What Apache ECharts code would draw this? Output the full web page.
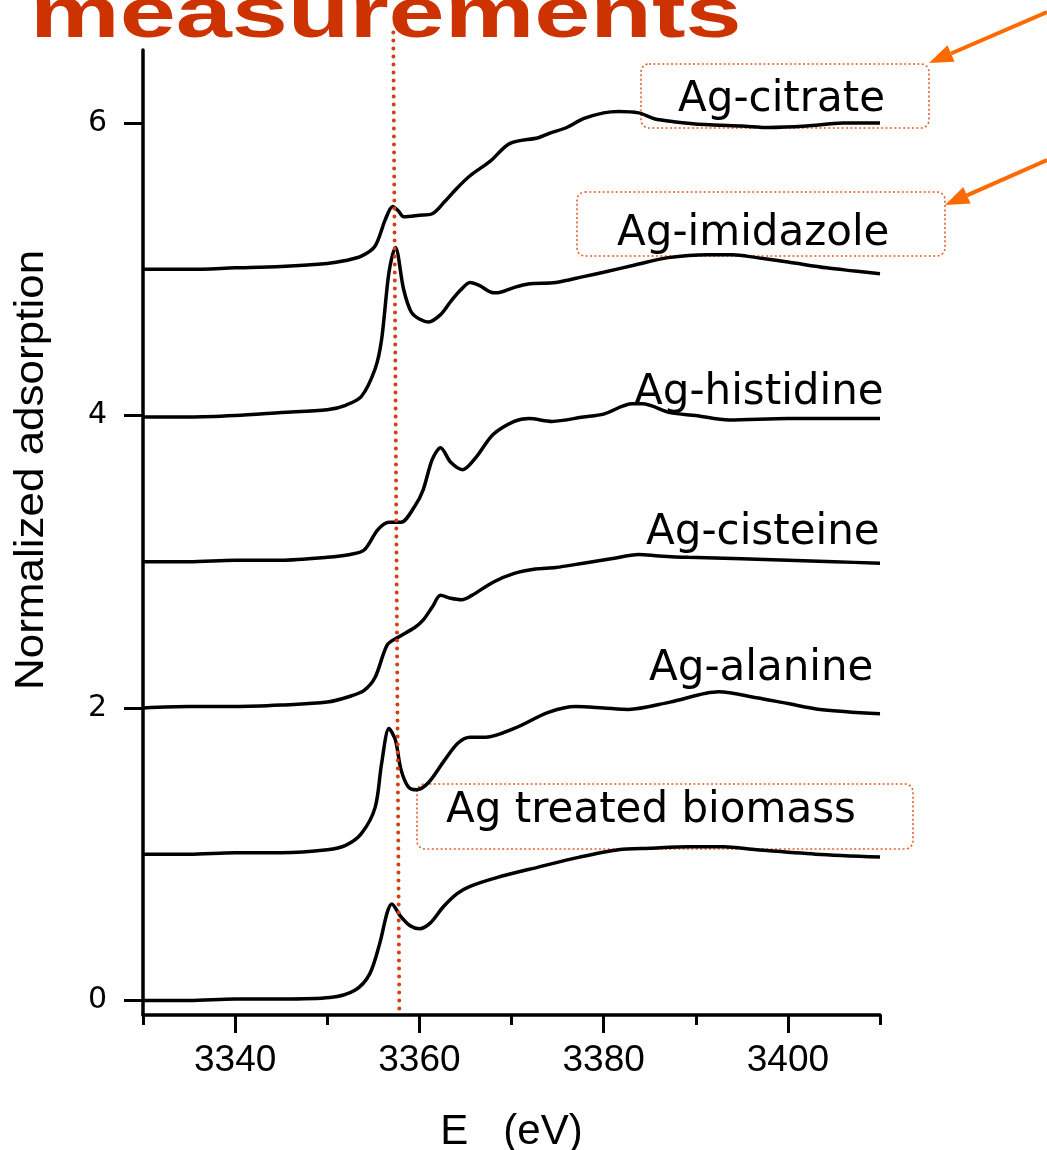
<!DOCTYPE html>
<html>
<head>
<meta charset="utf-8">
<script src="https://cdn.jsdelivr.net/npm/echarts@6/dist/echarts.min.js"></script>
<style>
  html, body { margin: 0; padding: 0; background: #ffffff; }
  #chart { width: 1047px; height: 1150px; }
</style>
</head>
<body>
<div id="chart"></div>
<script>
// Ag K-edge XANES spectra, each offset vertically by one unit: [energy (eV), normalized absorption]
const agBiomass = [
  [3330, 0.00], [3335, 0.00], [3340, 0.01], [3345, 0.01], [3350.3, 0.02], [3353, 0.07],
  [3354.6, 0.18], [3355.7, 0.39], [3356.5, 0.60], [3357, 0.66], [3357.9, 0.58], [3359, 0.51],
  [3360, 0.49], [3361.2, 0.53], [3362.6, 0.64], [3364.1, 0.73], [3365.5, 0.78], [3368.4, 0.84],
  [3372.8, 0.91], [3377.4, 0.98], [3381.6, 1.03], [3385, 1.04], [3389.2, 1.05], [3393, 1.05],
  [3396.6, 1.03], [3403, 1.00], [3410, 0.98]
];
const agAlanine = [
  [3330, 1.00], [3335, 1.00], [3340, 1.01], [3345, 1.01], [3350, 1.03], [3352, 1.06],
  [3353.7, 1.14], [3355.2, 1.32], [3355.9, 1.62], [3356.7, 1.86], [3357.4, 1.78], [3358, 1.58],
  [3358.8, 1.46], [3359.7, 1.44], [3361, 1.49], [3362.7, 1.64], [3364.2, 1.76], [3365.5, 1.80],
  [3367.2, 1.80], [3370.3, 1.86], [3374, 1.97], [3377, 2.01], [3380, 2.00], [3382.7, 1.99],
  [3387.2, 2.04], [3392.5, 2.11], [3396.6, 2.07], [3400, 2.03], [3403.5, 1.99], [3410, 1.96]
];
const agCisteine = [
  [3330, 2.00], [3335, 2.01], [3340, 2.01], [3345, 2.02], [3350, 2.04], [3352.5, 2.08],
  [3354, 2.12], [3355.2, 2.21], [3356.5, 2.43], [3357.6, 2.48], [3359.5, 2.55], [3360.4, 2.60],
  [3361.4, 2.69], [3362.3, 2.77], [3363.4, 2.75], [3364.6, 2.74], [3365.7, 2.77], [3368, 2.86],
  [3370.3, 2.92], [3372.6, 2.95], [3374.8, 2.96], [3377.8, 2.99], [3380.8, 3.02], [3383.8, 3.05],
  [3386, 3.04], [3389.2, 3.03], [3395, 3.02], [3400, 3.01], [3405, 3.00], [3410, 2.99]
];
const agHistidine = [
  [3330, 3.00], [3335, 3.00], [3340, 3.01], [3345, 3.01], [3350, 3.03], [3352.5, 3.05],
  [3354, 3.08], [3355.5, 3.22], [3356.7, 3.27], [3358, 3.27], [3359.5, 3.38], [3360.4, 3.49],
  [3361.4, 3.70], [3362.3, 3.78], [3363.4, 3.68], [3364.7, 3.63], [3366.1, 3.71], [3368, 3.87],
  [3370.3, 3.96], [3371.9, 3.98], [3374.4, 3.96], [3377.8, 3.99], [3380, 4.01], [3383.1, 4.08],
  [3384.2, 4.08], [3387.2, 4.02], [3390, 4.00], [3393.6, 3.97], [3400, 3.98], [3405, 3.98], [3410, 3.98]
];
const agImidazole = [
  [3330, 3.99], [3335, 3.99], [3340, 4.00], [3345, 4.02], [3350, 4.04], [3352, 4.07],
  [3353.7, 4.13], [3355.2, 4.32], [3355.9, 4.52], [3356.7, 4.98], [3357.4, 5.15], [3358.3, 4.86],
  [3359.1, 4.71], [3360, 4.66], [3361, 4.64], [3362.3, 4.69], [3363.4, 4.78], [3364.5, 4.86],
  [3365.5, 4.91], [3366.5, 4.89], [3368, 4.84], [3368.5, 4.84], [3370, 4.87], [3371.8, 4.90],
  [3374.8, 4.91], [3377.8, 4.95], [3380, 4.98], [3383.4, 5.03], [3387, 5.08], [3391.3, 5.10],
  [3394, 5.10], [3396.6, 5.08], [3400, 5.05], [3404.2, 5.01], [3407, 4.99], [3410, 4.97]
];
const agCitrate = [
  [3330, 5.00], [3335, 5.00], [3340, 5.01], [3345, 5.02], [3350, 5.04], [3352, 5.06],
  [3353.7, 5.09], [3355.2, 5.16], [3356.3, 5.34], [3357.1, 5.43], [3357.7, 5.40], [3358.3, 5.36],
  [3360, 5.37], [3361.4, 5.38], [3362.7, 5.46], [3364, 5.55], [3365.5, 5.64], [3367.7, 5.74],
  [3369.8, 5.86], [3372.9, 5.90], [3374.1, 5.93], [3376, 5.97], [3377.8, 6.03], [3380, 6.07],
  [3381.6, 6.08], [3383.8, 6.07], [3385.5, 6.03], [3387.6, 6.01], [3391, 5.99], [3395, 5.98],
  [3398, 5.97], [3402, 5.98], [3406, 6.00], [3410, 6.00]
];
// edge position reference line
const edgeLine = [[3357.17, 6.62], [3357.82, -0.07]];

const xMajorTicks = [3340, 3360, 3380, 3400];
const xMinorTicks = [3330, 3350, 3370, 3390, 3410];
const yMajorTicks = [0, 2, 4, 6];
const yMinorTicks = [1, 3, 5];

const spectra = [
  { name: 'Ag treated biomass', data: agBiomass },
  { name: 'Ag-alanine', data: agAlanine },
  { name: 'Ag-cisteine', data: agCisteine },
  { name: 'Ag-histidine', data: agHistidine },
  { name: 'Ag-imidazole', data: agImidazole },
  { name: 'Ag-citrate', data: agCitrate }
];

const chart = echarts.init(document.getElementById('chart'), null, { renderer: 'canvas' });

const labelFont = '42px "DejaVu Sans"';
const boxStroke = '#E0602A';
const arrowColor = '#FF6A00';

function arrow(x1, y1, x2, y2) {
  const ang = Math.atan2(y2 - y1, x2 - x1);
  const len = 24, half = 9;
  const bx = x2 - len * Math.cos(ang), by = y2 - len * Math.sin(ang);
  const px = -Math.sin(ang) * half, py = Math.cos(ang) * half;
  return [
    { type: 'line', z: 10, shape: { x1: x1, y1: y1, x2: bx, y2: by },
      style: { stroke: arrowColor, lineWidth: 4 } },
    { type: 'polygon', z: 10, shape: { points: [[x2, y2], [bx + px, by + py], [bx - px, by - py]] },
      style: { fill: arrowColor } }
  ];
}

function seriesLabel(text, x, y) {
  return { type: 'text', z: 5, x: x, y: y,
    style: { text: text, font: labelFont, fill: '#000', textAlign: 'left', textVerticalAlign: 'middle' } };
}

function dottedBox(x, y, w, h) {
  return { type: 'rect', z: 0, shape: { x: x, y: y, width: w, height: h, r: 8 },
    style: { fill: 'none', stroke: boxStroke, lineWidth: 1.6, lineDash: [2, 2.4] } };
}

const option = {
  backgroundColor: '#ffffff',
  animation: false,
  grid: { left: 143, right: 167, top: 50, bottom: 135, containLabel: false, outerBoundsMode: 'none' },
  xAxis: [
    {
      type: 'value', min: 3330, max: 3410, position: 'bottom',
      axisLine: { show: true, onZero: false, lineStyle: { color: '#000', width: 3.5 } },
      axisTick: { show: true, inside: false, length: 18, customValues: xMajorTicks,
        lineStyle: { color: '#000', width: 3 } },
      axisLabel: { show: true, customValues: xMajorTicks, margin: 27, color: '#000',
        fontFamily: '"Liberation Sans"', fontSize: 37,
        formatter: function (v) { return String(v); } },
      splitLine: { show: false },
      name: 'E   (eV)', nameLocation: 'middle', nameGap: 96,
      nameTextStyle: { color: '#000', fontFamily: '"Liberation Sans"', fontSize: 42 }
    },
    {
      type: 'value', min: 3330, max: 3410, position: 'bottom', offset: 0,
      axisLine: { show: false, onZero: false },
      axisTick: { show: true, inside: false, length: 10, customValues: xMinorTicks,
        lineStyle: { color: '#000', width: 3 } },
      axisLabel: { show: false },
      splitLine: { show: false }
    }
  ],
  yAxis: [
    {
      type: 'value', min: -0.1, max: 6.5, position: 'left',
      axisLine: { show: true, onZero: false, lineStyle: { color: '#000', width: 3.5 } },
      axisTick: { show: true, inside: false, length: 19, customValues: yMajorTicks,
        lineStyle: { color: '#000', width: 3 } },
      axisLabel: { show: true, customValues: yMajorTicks, margin: 36, color: '#000',
        fontFamily: '"DejaVu Sans"', fontSize: 30 },
      splitLine: { show: false }
    },
    {
      type: 'value', min: -0.1, max: 6.5, position: 'left', offset: 0,
      axisLine: { show: false, onZero: false },
      axisTick: { show: true, inside: true, length: 18, customValues: yMinorTicks,
        lineStyle: { color: '#000', width: 3 } },
      axisLabel: { show: false },
      splitLine: { show: false }
    }
  ],
  series: spectra.map(function (s) {
    return {
      name: s.name, type: 'line', data: s.data, xAxisIndex: 0, yAxisIndex: 0,
      showSymbol: false, smooth: 0.3, z: 3,
      lineStyle: { color: '#000', width: 3.5 }
    };
  }).concat([{
    name: 'edge', type: 'line', data: edgeLine, showSymbol: false, clip: false, z: 6,
    lineStyle: { color: '#D0420F', width: 4, type: [0.1, 7.9], cap: 'round' }
  }]),
  graphic: [
    { type: 'text', z: 1, x: 30, y: 17, scaleX: 1.40,
      style: { text: 'measurements', font: 'bold 72px "Liberation Sans"', fill: '#CC3300',
        textAlign: 'left', textVerticalAlign: 'middle' } },
    { type: 'text', z: 5, x: 32, y: 470, rotation: Math.PI / 2, scaleX: 1.1,
      style: { text: 'Normalized adsorption', font: '40px "Liberation Sans"', fill: '#000',
        textAlign: 'center', textVerticalAlign: 'middle' } },
    dottedBox(641, 64, 288, 64),
    dottedBox(577, 192, 368, 64),
    dottedBox(417, 784, 496, 65),
    seriesLabel('Ag-citrate', 678, 100),
    seriesLabel('Ag-imidazole', 617, 234),
    seriesLabel('Ag-histidine', 634, 393),
    seriesLabel('Ag-cisteine', 646, 533),
    seriesLabel('Ag-alanine', 649, 669),
    seriesLabel('Ag treated biomass', 446, 811)
  ].concat(arrow(1047, 12, 929, 63), arrow(1047, 160, 945, 205))
};

chart.setOption(option);
</script>
</body>
</html>
